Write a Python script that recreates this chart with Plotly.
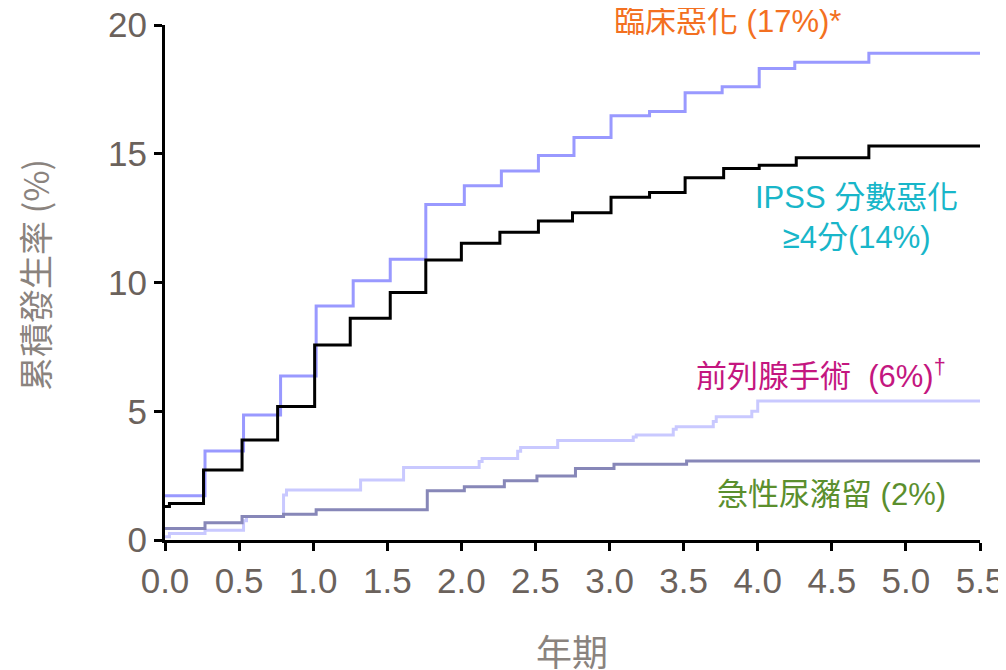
import plotly.graph_objects as go

# ---- data ----
clin_x = [0, 0.27, 0.53, 0.78, 1.02, 1.27, 1.52, 1.76, 2.02, 2.27, 2.52, 2.76, 3.01, 3.27, 3.51, 3.76, 4.01, 4.25, 4.75, 5.52]
clin_y = [1.72, 3.46, 4.85, 6.37, 9.09, 10.07, 10.9, 13.03, 13.76, 14.33, 14.93, 15.63, 16.48, 16.64, 17.37, 17.6, 18.31, 18.55, 18.9, 18.9]

ipss_x = [0, 0.03, 0.26, 0.52, 0.76, 1.01, 1.25, 1.52, 1.76, 2.0, 2.26, 2.52, 2.75, 3.01, 3.27, 3.51, 3.77, 4.01, 4.26, 4.75, 5.52]
ipss_y = [1.3, 1.42, 2.72, 3.88, 5.18, 7.57, 8.61, 9.61, 10.87, 11.52, 11.95, 12.39, 12.71, 13.31, 13.5, 14.07, 14.43, 14.55, 14.85, 15.3, 15.3]

surg_x = [0, 0.03, 0.27, 0.53, 0.55, 0.80, 0.82, 1.32, 1.61, 2.12, 2.14, 2.38, 2.40, 2.65, 3.16, 3.18, 3.43, 3.45, 3.70, 3.72, 3.96, 4.00, 5.52]
surg_y = [0.13, 0.25, 0.38, 0.75, 0.91, 1.75, 1.94, 2.33, 2.82, 3.05, 3.17, 3.45, 3.59, 3.86, 4.0, 4.08, 4.3, 4.4, 4.6, 4.79, 5.0, 5.4, 5.4]

aur_x = [0, 0.27, 0.52, 0.80, 1.02, 1.77, 2.02, 2.29, 2.51, 2.77, 3.03, 3.52, 5.52]
aur_y = [0.45, 0.67, 0.91, 1.0, 1.17, 1.91, 2.07, 2.3, 2.49, 2.78, 2.94, 3.07, 3.07]

x_ticks = [0, 0.5, 1.0, 1.5, 2.0, 2.5, 3.0, 3.5, 4.0, 4.5, 5.0, 5.5]
x_tick_labels = ["0.0", "0.5", "1.0", "1.5", "2.0", "2.5", "3.0", "3.5", "4.0", "4.5", "5.0", "5.5"]
y_ticks = [0, 5, 10, 15, 20]

labels = ["臨床惡化 (17%)*", "IPSS 分數惡化<br>≥4分(14%)", "前列腺手術  (6%)<sup>†</sup>", "急性尿瀦留 (2%)"]
label_colors = ["#f37021", "#18b6c9", "#c4167f", "#5b8f2e"]

LAT = "Liberation Sans, Arial, Noto Sans CJK TC, sans-serif"
CJK = "Noto Sans CJK TC, sans-serif"
TICK_COL = "#6b625c"
TITLE_COL = "#8a837e"

fig = go.Figure()
series = [
    (surg_x, surg_y, "#c9c9ff"),
    (aur_x, aur_y, "#8787b8"),
    (clin_x, clin_y, "#9999ff"),
    (ipss_x, ipss_y, "#000000"),
]
for xs, ys, col in series:
    fig.add_trace(go.Scatter(x=xs, y=ys, mode="lines", line=dict(color=col, width=3, shape="hv"),
                             showlegend=False, hoverinfo="skip", cliponaxis=False))

# series labels (paper coordinates)
def lab(x, y, text, col, xanchor):
    fig.add_annotation(xref="paper", yref="paper", x=x, y=y, text=text, showarrow=False,
                       xanchor=xanchor, yanchor="middle",
                       font=dict(family=LAT, size=31, color=col))

lab(0.690, 1.006, labels[0], label_colors[0], "center")
lab(0.848, 0.627, labels[1], label_colors[1], "center")
lab(0.961, 0.322, labels[2], label_colors[2], "right")
lab(0.961, 0.089, labels[3], label_colors[3], "right")

# axis titles
fig.add_annotation(xref="paper", yref="paper", x=-0.160, y=0.514, text="累積發生率 (%)", textangle=-90,
                   showarrow=False, xanchor="center", yanchor="middle",
                   font=dict(family=CJK, size=34, color=TITLE_COL))
fig.add_annotation(xref="paper", yref="paper", x=0.499, y=-0.214, text="年期",
                   showarrow=False, xanchor="center", yanchor="middle",
                   font=dict(family=CJK, size=36, color=TITLE_COL))

fig.update_xaxes(range=[0, 5.5], tickvals=x_ticks, ticktext=x_tick_labels, showgrid=False, zeroline=False,
                 showline=True, linecolor="black", linewidth=3, ticks="outside", ticklen=8, tickwidth=3,
                 tickcolor="black", automargin=False, ticklabeloverflow="allow",
                 tickfont=dict(family=LAT, size=35, color=TICK_COL))
fig.update_yaxes(range=[0, 20.001], tickvals=y_ticks, showgrid=False, zeroline=False,
                 showline=True, linecolor="black", linewidth=3, ticks="outside", ticklen=8, tickwidth=3,
                 tickcolor="black", automargin=False, ticklabeloverflow="allow",
                 tickfont=dict(family=LAT, size=35, color=TICK_COL))

# the page body adds an 8px offset; margins compensate so the plot area lands at x 165-980, y 25-540
fig.update_layout(width=1006, height=670, margin=dict(l=157, r=34, t=17, b=138),
                  paper_bgcolor="white", plot_bgcolor="white")

fig.write_html("out.html")
